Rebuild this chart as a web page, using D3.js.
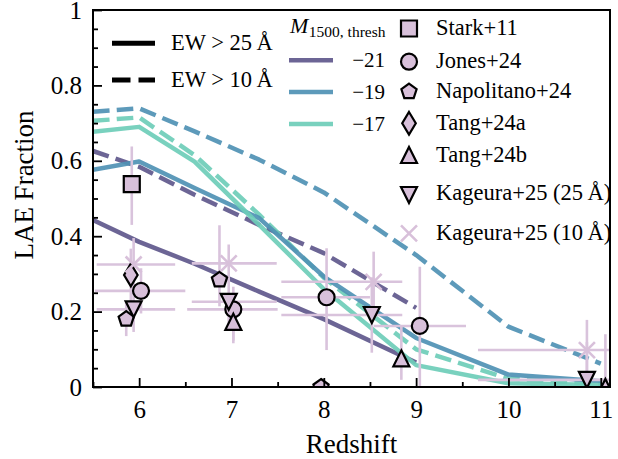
<!DOCTYPE html>
<html>
<head>
<meta charset="utf-8">
<script src="https://cdn.jsdelivr.net/npm/d3@7"></script>
<style>
  html, body { margin: 0; padding: 0; background: #fff; }
  svg { display: block; font-family: "Liberation Serif", "Times New Roman", "DejaVu Serif", serif; }
  svg text { font-family: "Liberation Serif", "Times New Roman", "DejaVu Serif", serif; }
</style>
</head>
<body>
<svg id="chart" width="618" height="459"></svg>
<script>
// ---------------- model curves: LAE fraction vs redshift ----------------
const zModel = [5.5, 6.0, 6.6, 7.3, 8.0, 9.0, 10.0, 11.0];
// M1500 threshold = -21 (grid stops at z = 9)
const fracM21_EW25 = [0.443, 0.385, 0.327, 0.253, 0.180, 0.065];
const fracM21_EW10 = [0.626, 0.584, 0.510, 0.430, 0.355, 0.210];
// M1500 threshold = -19
const fracM19_EW25 = [0.576, 0.598, 0.528, 0.448, 0.293, 0.130, 0.033, 0.015];
const fracM19_EW10 = [0.730, 0.739, 0.678, 0.603, 0.516, 0.350, 0.160, 0.062];
// M1500 threshold = -17
const fracM17_EW25 = [0.677, 0.690, 0.598, 0.430, 0.260, 0.058, 0.010, 0.005];
const fracM17_EW10 = [0.706, 0.715, 0.615, 0.457, 0.290, 0.100, 0.022, 0.008];

const thresholdLabels = ["\u221221", "\u221219", "\u221217"];
const thresholdColors = ["#5f588c", "#4f91b4", "#6ecdb9"];

// ---------------- observations ----------------
// each: redshift, fraction, redshift error [lo, hi], fraction error [lo, hi]
const starkZ = [5.92];
const starkF = [0.538];
const starkZErr = [[0, 0]];
const starkFErr = [[0.108, 0.10]];

const jonesZ = [6.02, 7.02, 8.03, 9.04];
const jonesF = [0.255, 0.206, 0.238, 0.162];
const jonesZErr = [[0.5, 0.48], [0.5, 0.48], [0.49, 0.47], [0.5, 0.5]];
const jonesFErr = [[0.06, 0.06], [0.09, 0.06], [0.14, 0.13], [0.162, 0.157]];

const napolitanoZ = [5.86, 6.87, 7.97];
const napolitanoF = [0.180, 0.284, 0.0];
const napolitanoZErr = [[0, 0], [0, 0], [0, 0]];
const napolitanoFErr = [[0.045, 0.045], [0.07, 0.145], [0, 0]];

const tangAZ = [5.91];
const tangAF = [0.297];
const tangAZErr = [[0, 0]];
const tangAFErr = [[0.07, 0.07]];

const tangBZ = [7.02, 8.84, 11.05];
const tangBF = [0.173, 0.076, 0.0];
const tangBZErr = [[0, 0], [0, 0], [0, 0]];
const tangBFErr = [[0.05, 0.05], [0.057, 0.084], [0, 0.14]];

const kageura25Z = [5.94, 6.97, 8.52, 10.85];
const kageura25F = [0.206, 0.226, 0.191, 0.019];
const kageura25ZErr = [[0.4, 0.45], [0.4, 0.52], [0.98, 0.33], [1.18, 0.4]];
const kageura25FErr = [[0.06, 0.06], [0.06, 0.06], [0.1, 0.1], [0.019, 0.1]];

const kageura10Z = [5.94, 6.97, 8.54, 10.85];
const kageura10F = [0.325, 0.328, 0.279, 0.098];
const kageura10ZErr = [[0.4, 0.45], [0.4, 0.52], [1.0, 0.31], [1.18, 0.4]];
const kageura10FErr = [[0.07, 0.07], [0.05, 0.05], [0.08, 0.08], [0.08, 0.08]];

const xMajorTicks = [6, 7, 8, 9, 10, 11];
const yMajorTicks = [0, 0.2, 0.4, 0.6, 0.8, 1];

// ---------------- layout ----------------
const svg = d3.select("#chart");
const x = d3.scaleLinear().domain([5.5, 11.1]).range([93, 610]);
const y = d3.scaleLinear().domain([0, 1]).range([387, 10]);

const SERIF = "Liberation Serif, Times New Roman, DejaVu Serif, serif";
const LILAC = "#d8c0da";
const LILAC_BAR = "#d9c3dc";

svg.append("defs").append("clipPath").attr("id", "plot-clip")
  .append("rect")
  .attr("x", x(5.5)).attr("y", y(1))
  .attr("width", x(11.1) - x(5.5)).attr("height", y(0) - y(1));

const plot = svg.append("g").attr("clip-path", "url(#plot-clip)");

// ---------------- model lines ----------------
const line = d3.line().x(d => x(d[0])).y(d => y(d[1]));
const modelSets = [
  { vals: fracM21_EW10, color: thresholdColors[0], dashed: true },
  { vals: fracM19_EW10, color: thresholdColors[1], dashed: true },
  { vals: fracM17_EW10, color: thresholdColors[2], dashed: true },
  { vals: fracM21_EW25, color: thresholdColors[0], dashed: false },
  { vals: fracM19_EW25, color: thresholdColors[1], dashed: false },
  { vals: fracM17_EW25, color: thresholdColors[2], dashed: false }
];
modelSets.forEach(s => {
  const pts = s.vals.map((v, i) => [zModel[i], v]);
  plot.append("path")
    .attr("d", line(pts))
    .attr("fill", "none")
    .attr("stroke", s.color)
    .attr("stroke-width", 4.5)
    .attr("stroke-opacity", 0.92)
    .attr("stroke-linejoin", "round")
    .attr("stroke-dasharray", s.dashed ? "16.6,7.2" : null);
});

// ---------------- marker shapes ----------------
function markerPath(type, ms) {
  const h = ms / 2;
  const p = d3.path();
  if (type === "square") {
    p.rect(-h, -h, ms, ms);
  } else if (type === "circle") {
    p.arc(0, 0, h, 0, 2 * Math.PI); p.closePath();
  } else if (type === "pentagon") {
    d3.range(5).forEach(k => {
      const a = -Math.PI / 2 + k * 2 * Math.PI / 5;
      const px = h * Math.cos(a), py = h * Math.sin(a);
      k === 0 ? p.moveTo(px, py) : p.lineTo(px, py);
    });
    p.closePath();
  } else if (type === "thindiamond") {
    const hh = ms * Math.SQRT1_2, hw = 0.6 * hh;
    p.moveTo(0, -hh); p.lineTo(hw, 0); p.lineTo(0, hh); p.lineTo(-hw, 0); p.closePath();
  } else if (type === "triup") {
    p.moveTo(0, -h); p.lineTo(h, h); p.lineTo(-h, h); p.closePath();
  } else if (type === "tridown") {
    p.moveTo(0, h); p.lineTo(h, -h); p.lineTo(-h, -h); p.closePath();
  } else if (type === "x") {
    p.moveTo(-h, -h); p.lineTo(h, h); p.moveTo(-h, h); p.lineTo(h, -h);
  }
  return p.toString();
}

const MS = 16;
const surveys = [
  { name: "Stark+11", z: starkZ, f: starkF, zErr: starkZErr, fErr: starkFErr, shape: "square" },
  { name: "Jones+24", z: jonesZ, f: jonesF, zErr: jonesZErr, fErr: jonesFErr, shape: "circle" },
  { name: "Napolitano+24", z: napolitanoZ, f: napolitanoF, zErr: napolitanoZErr, fErr: napolitanoFErr, shape: "pentagon" },
  { name: "Tang+24a", z: tangAZ, f: tangAF, zErr: tangAZErr, fErr: tangAFErr, shape: "thindiamond" },
  { name: "Tang+24b", z: tangBZ, f: tangBF, zErr: tangBZErr, fErr: tangBFErr, shape: "triup" },
  { name: "Kageura+25 (25\u2009\u00c5)", z: kageura25Z, f: kageura25F, zErr: kageura25ZErr, fErr: kageura25FErr, shape: "tridown" },
  { name: "Kageura+25 (10\u2009\u00c5)", z: kageura10Z, f: kageura10F, zErr: kageura10ZErr, fErr: kageura10FErr, shape: "x" }
];

function drawMarker(g, shape, cx, cy) {
  const m = g.append("path")
    .attr("d", markerPath(shape, MS))
    .attr("transform", `translate(${cx},${cy})`);
  if (shape === "x") {
    m.attr("fill", "none").attr("stroke", LILAC).attr("stroke-width", 2.6);
  } else {
    m.attr("fill", LILAC).attr("stroke", "#000").attr("stroke-width", 2.2)
     .attr("stroke-linejoin", "miter");
  }
  return m;
}

// error bars first, then markers on top
const errG = plot.append("g");
surveys.forEach(s => {
  s.z.forEach((zv, i) => {
    const fv = s.f[i];
    const [zl, zh] = s.zErr[i];
    const [fl, fh] = s.fErr[i];
    if (zl > 0 || zh > 0) {
      errG.append("line")
        .attr("x1", x(zv - zl)).attr("x2", x(zv + zh))
        .attr("y1", y(fv)).attr("y2", y(fv))
        .attr("stroke", LILAC_BAR).attr("stroke-width", 2.6);
    }
    if (fl > 0 || fh > 0) {
      errG.append("line")
        .attr("x1", x(zv)).attr("x2", x(zv))
        .attr("y1", y(fv - fl)).attr("y2", y(fv + fh))
        .attr("stroke", LILAC_BAR).attr("stroke-width", 2.6);
    }
  });
});
const markG = plot.append("g");
surveys.forEach(s => {
  s.z.forEach((zv, i) => drawMarker(markG, s.shape, x(zv), y(s.f[i])));
});

// ---------------- axes ----------------
function styleAxis(g) {
  g.attr("font-family", SERIF).attr("font-size", 25);
  g.select(".domain").remove();
  g.selectAll(".tick line").attr("stroke", "#000").attr("stroke-width", 1.8);
  g.selectAll(".tick text").attr("fill", "#000");
}
const xMinor = d3.range(5.5, 11.11, 0.5).filter(v => !xMajorTicks.some(t => Math.abs(t - v) < 1e-6));
const yMinor = d3.range(0, 1.001, 0.05).filter(v => !yMajorTicks.some(t => Math.abs(t - v) < 1e-6));

svg.append("g").attr("transform", `translate(0,${y(0)})`)
  .call(d3.axisBottom(x).tickValues(xMajorTicks).tickSizeInner(-9).tickSizeOuter(0)
    .tickPadding(13).tickFormat(d3.format("d")))
  .call(styleAxis);
svg.append("g").attr("transform", `translate(0,${y(0)})`)
  .call(d3.axisBottom(x).tickValues(xMinor).tickSizeInner(-5).tickSizeOuter(0).tickFormat(""))
  .call(styleAxis);
svg.append("g").attr("transform", `translate(${x(5.5)},0)`)
  .call(d3.axisLeft(y).tickValues(yMajorTicks).tickSizeInner(-9).tickSizeOuter(0)
    .tickPadding(11).tickFormat(d3.format("~g")))
  .call(styleAxis);
svg.append("g").attr("transform", `translate(${x(5.5)},0)`)
  .call(d3.axisLeft(y).tickValues(yMinor).tickSizeInner(-5).tickSizeOuter(0).tickFormat(""))
  .call(styleAxis);

// frame
svg.append("rect")
  .attr("x", x(5.5)).attr("y", y(1))
  .attr("width", x(11.1) - x(5.5)).attr("height", y(0) - y(1))
  .attr("fill", "none").attr("stroke", "#000").attr("stroke-width", 2);

// axis titles
svg.append("text")
  .attr("x", (x(5.5) + x(11.1)) / 2).attr("y", 453)
  .attr("text-anchor", "middle").attr("font-size", 27).attr("font-family", SERIF)
  .text("Redshift");
svg.append("text")
  .attr("transform", "translate(33,185) rotate(-90)")
  .attr("text-anchor", "middle").attr("font-size", 27).attr("font-family", SERIF)
  .text("LAE Fraction");

// ---------------- legend: equivalent-width cut ----------------
const ewLabels = ["EW > 25\u2009\u00c5", "EW > 10\u2009\u00c5"];
const legEW = svg.append("g").attr("font-family", SERIF).attr("font-size", 22.5);
[[43.3, 50, false], [80, 87, true]].forEach(([ly, ty, dashed], i) => {
  legEW.append("line")
    .attr("x1", 112).attr("x2", 155).attr("y1", ly).attr("y2", ly)
    .attr("stroke", "#000").attr("stroke-width", 5)
    .attr("stroke-dasharray", dashed ? "18.5,8" : null);
  legEW.append("text").attr("x", 171).attr("y", ty).text(ewLabels[i]);
});

// ---------------- legend: magnitude threshold ----------------
const legM = svg.append("g").attr("font-family", SERIF);
const title = legM.append("text").attr("x", 290).attr("y", 33);
title.append("tspan").attr("font-style", "italic").attr("font-size", 22).text("M");
title.append("tspan").attr("font-size", 15.5).attr("dy", 4).attr("dx", 0.5).text("1500, thresh");
[60.3, 92, 124].forEach((ly, i) => {
  legM.append("line")
    .attr("x1", 289).attr("x2", 333).attr("y1", ly).attr("y2", ly)
    .attr("stroke", thresholdColors[i]).attr("stroke-width", 4.5).attr("stroke-opacity", 0.92);
  legM.append("text")
    .attr("x", 385).attr("y", ly + 7).attr("text-anchor", "end").attr("font-size", 21)
    .text(thresholdLabels[i]);
});

// ---------------- legend: observations ----------------
const legObs = svg.append("g").attr("font-family", SERIF).attr("font-size", 22.5);
const rowMarkerY = [28.5, 61.7, 91.7, 123.3, 155, 195, 233.3];
const rowTextY = [35, 68, 98, 130, 162, 200, 240];
surveys.forEach((s, i) => {
  drawMarker(legObs, s.shape, 409, rowMarkerY[i]);
  legObs.append("text").attr("x", 436).attr("y", rowTextY[i]).text(s.name);
});
</script>
</body>
</html>
